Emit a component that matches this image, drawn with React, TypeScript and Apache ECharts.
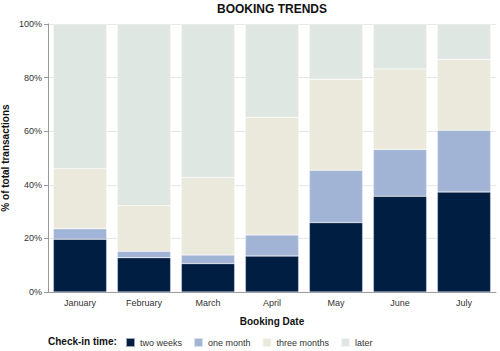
import React, { useEffect, useRef } from "react";
import * as echarts from "echarts";

const months = ["January", "February", "March", "April", "May", "June", "July"];
const twoWeeks = [19.7, 12.8, 10.6, 13.4, 25.9, 35.7, 37.3];
const oneMonth = [3.9, 2.4, 3.2, 7.9, 19.5, 17.5, 23.1];
const threeMonths = [22.4, 17.0, 29.0, 43.9, 34.0, 30.0, 26.4];
const later = [54.0, 67.8, 57.2, 34.8, 20.6, 16.8, 13.2];
const seriesNames = ["two weeks", "one month", "three months", "later"];
const seriesColors = ["#001e42", "#a2b4d5", "#ebe9db", "#dfe7e3"];

export default function App() {
  const ref = useRef<HTMLDivElement>(null);
  useEffect(() => {
    const chart = echarts.init(ref.current!, null, { renderer: "svg" });
    const font = "Liberation Sans, Arial, sans-serif";
    const data = [twoWeeks, oneMonth, threeMonths, later];
    chart.setOption({
      animation: false,
      textStyle: { fontFamily: font },
      title: {
        text: "BOOKING TRENDS",
        left: 272,
        textAlign: "center",
        top: 3,
        padding: 0,
        textStyle: { fontSize: 12, fontWeight: "bold", color: "#111", fontFamily: font },
      },
      grid: { left: 48, right: 4, top: 24, bottom: 59, outerBoundsMode: "none" },
      graphic: [
        {
          type: "text",
          left: 48,
          top: 336,
          style: { text: "Check-in time:", font: "bold 10px " + font, fill: "#111" },
        },
      ],
      legend: {
        left: 125,
        top: 337,
        padding: 0,
        itemWidth: 9,
        itemHeight: 9,
        itemGap: 11,
        icon: "rect",
        textStyle: { fontSize: 9, color: "#333", fontFamily: font },
        data: seriesNames,
      },
      xAxis: {
        type: "category",
        data: months,
        name: "Booking Date",
        nameLocation: "middle",
        nameGap: 24,
        nameMoveOverlap: false,
        nameTextStyle: { fontWeight: "bold", fontSize: 10, color: "#111" },
        axisLine: { lineStyle: { color: "#999" } },
        axisTick: { alignWithLabel: true, length: 4, lineStyle: { color: "#999" } },
        axisLabel: { fontSize: 9, color: "#333", margin: 6 },
      },
      yAxis: {
        type: "value",
        min: 0,
        max: 100,
        interval: 20,
        name: "% of total transactions",
        nameLocation: "middle",
        nameGap: 38,
        nameMoveOverlap: false,
        nameTextStyle: { fontWeight: "bold", fontSize: 10, color: "#111" },
        axisLine: { show: true, lineStyle: { color: "#999" } },
        axisTick: { show: true, length: 4, lineStyle: { color: "#999" } },
        axisLabel: { formatter: "{value}%", fontSize: 9, color: "#333", margin: 6 },
        splitLine: { lineStyle: { color: "#e6e6e6" } },
      },
      series: seriesNames.map((name, i) => ({
        name,
        type: "bar",
        stack: "total",
        barCategoryGap: "16.7%",
        data: data[i],
        itemStyle: { color: seriesColors[i], borderColor: "rgba(255,255,255,0.6)", borderWidth: 0.5 },
      })),
    });
    return () => chart.dispose();
  }, []);
  return <div ref={ref} style={{ width: 500, height: 351, position: "absolute", left: 0, top: 0 }} />;
}
